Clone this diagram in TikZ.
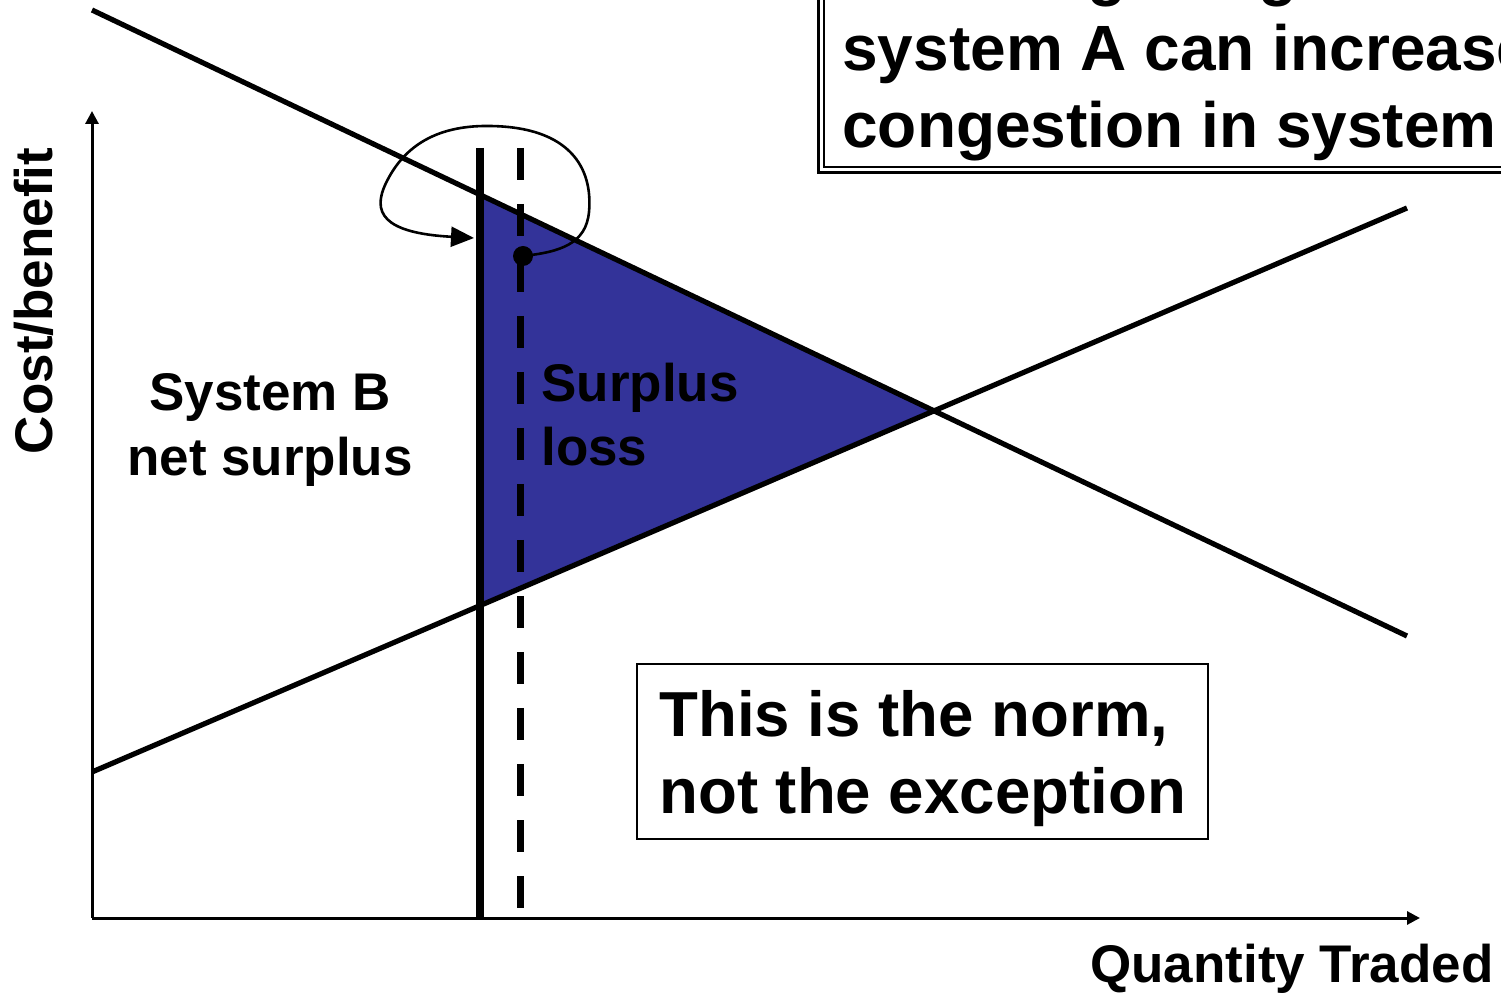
\documentclass[tikz,border=0pt]{standalone}
\usepackage{fontspec}
\setmainfont{Liberation Sans}
\usetikzlibrary{arrows.meta}
\definecolor{lossblue}{RGB}{51,51,153}
\begin{document}
\begin{tikzpicture}[x=0.5pt,y=-0.5pt,
  lbl/.style={font=\fontsize{26.5}{32}\selectfont\bfseries, inner sep=0pt},
  big/.style={font=\fontsize{32}{38}\selectfont\bfseries, inner sep=0pt},
  mid/.style={font=\fontsize{31.8}{38}\selectfont\bfseries, inner sep=0pt},
  axisline/.style={line width=1.5pt, -{Triangle[length=6.5pt,width=6.5pt]}},
  curveline/.style={line width=2.6pt},
  loopline/.style={line width=1.3pt},
]
\clip (0,0) rectangle (1501,994);
% coordinates
\coordinate (O) at (92,918);
\coordinate (Ytop) at (92,111);
\coordinate (Xend) at (1420,918);
\coordinate (D1) at (92,10);
\coordinate (D2) at (1407,636);
\coordinate (S1) at (92,772);
\coordinate (S2) at (1407,208);
\coordinate (E) at (933,411);
\coordinate (A) at (480,195);
\coordinate (B) at (480,606);
\coordinate (V1) at (480,148);
\coordinate (V2) at (480,918);
\coordinate (W1) at (520,148);
\coordinate (W2) at (520,908);
% surplus loss triangle
\fill[lossblue] (A) -- (E) -- (B) -- cycle;
\draw[line width=1.5pt] (A) -- (E) -- (B);
% curves
\draw[curveline] (D1) -- (D2);
\draw[curveline] (S1) -- (S2);
% axes
\draw[axisline] (O) -- (Ytop);
\draw[axisline] (O) -- (Xend);
% vertical lines
\draw[line width=4pt] (V1) -- (V2);
\draw[line width=3.5pt, dash pattern=on 16pt off 12pt] (W1) -- (W2);
% loop arrow
\node[circle, fill=black, inner sep=0pt, minimum size=10pt] (dot) at (523,256) {};
\coordinate (tip) at (474,238);
\draw[loopline, -{Triangle[length=11.5pt,width=10pt]}] (dot.center)
  .. controls (560,252) and (586,244) .. (589,212)
  .. controls (593,168) and (570,127) .. (490,126)
  .. controls (432,125) and (402,150) .. (386,183)
  .. controls (372,212) and (382,233) .. (tip);
% labels
\node[lbl, anchor=base] (sb1) at (270,411) {System B};
\node[lbl, anchor=base] (sb2) at (270,476) {net surplus};
\node[lbl, anchor=base west] (sl1) at (541,402) {Surplus};
\node[lbl, anchor=base west] (sl2) at (541,466) {loss};
\node[lbl, anchor=base east] (qt) at (1494,982) {Quantity Traded};
\node[lbl, rotate=90, anchor=base] (cb) at (53,301) {Cost/benefit};
% norm box
\node[draw, line width=1pt, minimum width=285.5pt, minimum height=87.5pt, inner sep=0pt] (normbox) at (922.5,751.5) {};
\node[mid, anchor=base west] (n1) at (659,737) {This is the norm,};
\node[mid, anchor=base west] (n2) at (659,813) {not the exception};
% top box
\draw[line width=1.5pt] (818,-20) rectangle (1540,173);
\draw[line width=0.8pt] (824,-20) rectangle (1540,167);
\node[big, anchor=base west] (t1) at (842,-6) {Relieving congestion in};
\node[big, anchor=base west] (t2) at (842,71) {system A can increase};
\node[big, anchor=base west] (t3) at (842,148) {congestion in system B};
\end{tikzpicture}
\end{document}
